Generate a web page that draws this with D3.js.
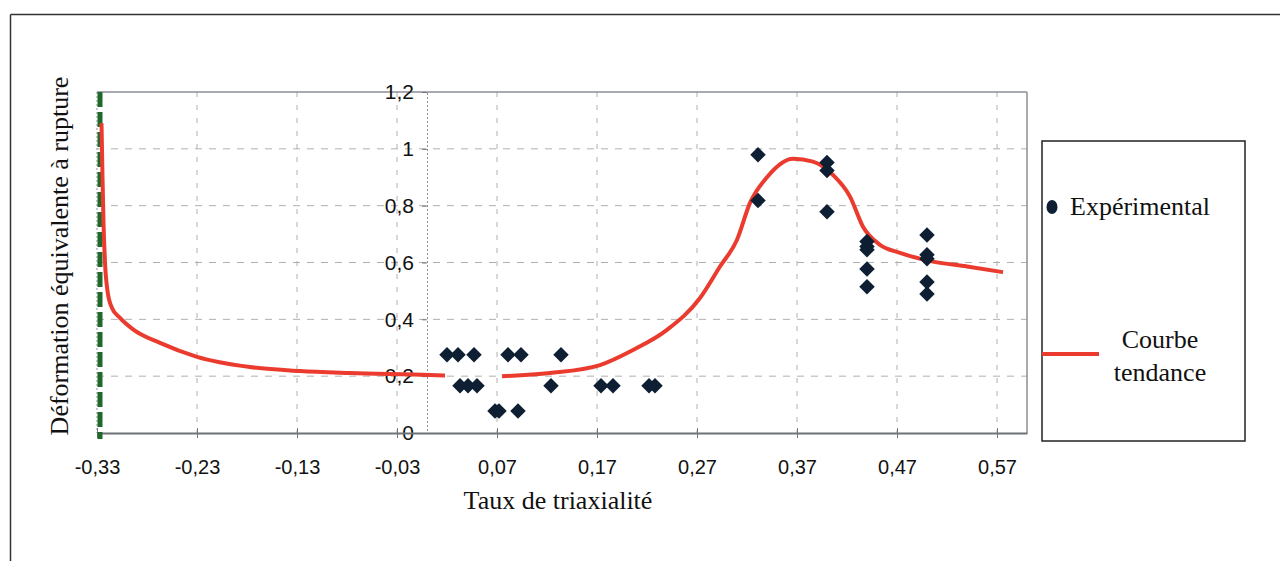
<!DOCTYPE html>
<html>
<head>
<meta charset="utf-8">
<script src="https://cdn.jsdelivr.net/npm/d3@7"></script>
<style>
  html, body { margin: 0; padding: 0; background: #fff; }
  svg { display: block; }
</style>
</head>
<body>
<svg id="chart" width="1284" height="561"></svg>
<script>
// ---------- data ----------
const xTicks = [-0.33, -0.23, -0.13, -0.03, 0.07, 0.17, 0.27, 0.37, 0.47, 0.57];
const yTicks = [0, 0.2, 0.4, 0.6, 0.8, 1, 1.2];

const expX = [0.020, 0.031, 0.047, 0.081, 0.094, 0.134,
              0.033, 0.041, 0.050, 0.124, 0.174, 0.186, 0.222, 0.228,
              0.068, 0.072, 0.091,
              0.331, 0.331, 0.400, 0.400, 0.400,
              0.440, 0.440, 0.440, 0.440, 0.440,
              0.500, 0.500, 0.500, 0.500, 0.500];
const expY = [0.275, 0.275, 0.275, 0.275, 0.275, 0.275,
              0.166, 0.166, 0.166, 0.166, 0.166, 0.166, 0.166, 0.166,
              0.077, 0.077, 0.077,
              0.979, 0.818, 0.952, 0.924, 0.779,
              0.674, 0.656, 0.645, 0.577, 0.515,
              0.697, 0.627, 0.613, 0.531, 0.489];

const trendLeftX = [-0.3255, -0.3245, -0.3235, -0.3220, -0.3195, -0.3150, -0.3070, -0.2940, -0.2670, -0.2300, -0.1770, -0.1270, -0.0770, 0.0030, 0.0180];
const trendLeftY = [1.09, 0.90, 0.74, 0.60, 0.50, 0.44, 0.405, 0.365, 0.317, 0.268, 0.232, 0.218, 0.211, 0.204, 0.202];

const trendRightX = [0.075, 0.123, 0.173, 0.206, 0.240, 0.273, 0.293, 0.310, 0.323, 0.340, 0.366, 0.386, 0.406, 0.423, 0.436, 0.453, 0.473, 0.506, 0.540, 0.576];
const trendRightY = [0.200, 0.211, 0.239, 0.292, 0.363, 0.475, 0.586, 0.680, 0.810, 0.900, 0.965, 0.955, 0.908, 0.832, 0.726, 0.662, 0.634, 0.603, 0.586, 0.566];

const legendLabels = ["Expérimental", "Courbe", "tendance"];
const xTitle = "Taux de triaxialité";
const yTitle = "Déformation équivalente  à rupture";

// ---------- layout ----------
const svg = d3.select("#chart");
const plot = { left: 97, right: 1027, top: 92, bottom: 433 };
const x = d3.scaleLinear().domain([-0.33, 0.60]).range([plot.left, plot.right]);
const y = d3.scaleLinear().domain([0, 1.2]).range([plot.bottom, plot.top]);

const fmtX = v => v.toFixed(2).replace(".", ",");
const fmtY = v => String(+v.toFixed(1)).replace(".", ",");
const serif = "Liberation Serif, Times New Roman, serif";
const sans = "Liberation Sans, Arial, sans-serif";

// outer frame (top + left visible)
svg.append("line").attr("x1", 10.5).attr("x2", 1280).attr("y1", 14.5).attr("y2", 14.5)
  .attr("stroke", "#333").attr("stroke-width", 1.5);
svg.append("line").attr("x1", 10.5).attr("x2", 10.5).attr("y1", 14.5).attr("y2", 561)
  .attr("stroke", "#333").attr("stroke-width", 1.5);

// grid lines
const g = svg.append("g");
g.selectAll(".vgrid").data(xTicks.filter(d => d > -0.33)).join("line")
  .attr("x1", d => x(d)).attr("x2", d => x(d))
  .attr("y1", plot.top).attr("y2", plot.bottom)
  .attr("stroke", "#b0b0b0").attr("stroke-width", 1).attr("stroke-dasharray", "5,8");
g.selectAll(".hgrid").data(yTicks.filter(d => d > 0 && d < 1.2)).join("line")
  .attr("x1", plot.left).attr("x2", plot.right)
  .attr("y1", d => y(d)).attr("y2", d => y(d))
  .attr("stroke", "#b0b0b0").attr("stroke-width", 1).attr("stroke-dasharray", "7,7");

// plot border
g.append("line").attr("x1", plot.left).attr("x2", plot.right).attr("y1", plot.top).attr("y2", plot.top)
  .attr("stroke", "#8a8f94").attr("stroke-width", 1.5);
g.append("line").attr("x1", plot.right).attr("x2", plot.right).attr("y1", plot.top).attr("y2", plot.bottom)
  .attr("stroke", "#8a8f94").attr("stroke-width", 1.5);
g.append("line").attr("x1", plot.left).attr("x2", plot.left).attr("y1", plot.top).attr("y2", plot.bottom)
  .attr("stroke", "#8a8f94").attr("stroke-width", 1).attr("stroke-dasharray", "2,2");

// y axis at x = 0
const yAxis = d3.axisLeft(y).tickValues(yTicks).tickFormat(fmtY).tickSize(5).tickPadding(8);
const ya = svg.append("g").attr("transform", `translate(${x(0)},0)`).call(yAxis);
ya.select(".domain").attr("stroke", "#8a8f94").attr("stroke-width", 1).attr("stroke-dasharray", "2,2");
ya.selectAll(".tick line").attr("stroke", "#777");
ya.selectAll("text").attr("font-family", sans).attr("font-size", 21).attr("fill", "#111");

// x axis at y = 0
const xAxis = d3.axisBottom(x).tickValues(xTicks).tickFormat(fmtX).tickSizeInner(5).tickSizeOuter(0).tickPadding(22);
const xa = svg.append("g").attr("transform", `translate(0,${y(0)})`).call(xAxis);
xa.select(".domain").attr("stroke", "#6d7378").attr("stroke-width", 2);
xa.selectAll(".tick line").attr("stroke", "#777").attr("y1", -5);
xa.selectAll("text").attr("font-family", sans).attr("font-size", 20).attr("fill", "#111");

// green dashed line at x = -0.33
svg.append("line")
  .attr("x1", x(-0.33) + 3).attr("x2", x(-0.33) + 3)
  .attr("y1", plot.top).attr("y2", plot.bottom + 6)
  .attr("stroke", "#1f6a2a").attr("stroke-width", 5).attr("stroke-dasharray", "15,5");

// trend curves
const line = d3.line().x(d => x(d[0])).y(d => y(d[1])).curve(d3.curveMonotoneX);
const leftPts = trendLeftX.map((v, i) => [v, trendLeftY[i]]);
const rightPts = trendRightX.map((v, i) => [v, trendRightY[i]]);
[leftPts, rightPts].forEach(pts => {
  svg.append("path").attr("d", line(pts)).attr("fill", "none")
    .attr("stroke", "#ea3b2e").attr("stroke-width", 4).attr("stroke-linejoin", "round");
});

// experimental diamonds
const diamond = d3.symbol().type(d3.symbolSquare).size(120);
svg.selectAll(".pt").data(expX.map((v, i) => [v, expY[i]])).join("path")
  .attr("d", diamond)
  .attr("transform", d => `translate(${x(d[0])},${y(d[1])}) rotate(45)`)
  .attr("fill", "#0e1f33");

// axis titles
svg.append("text").attr("x", 558).attr("y", 509).attr("text-anchor", "middle")
  .attr("font-family", serif).attr("font-size", 26).attr("fill", "#111").text(xTitle);
svg.append("text").attr("transform", "translate(68,256) rotate(-90)").attr("text-anchor", "middle")
  .attr("font-family", serif).attr("font-size", 26).attr("fill", "#111").text(yTitle);

// legend
const lg = svg.append("g");
lg.append("rect").attr("x", 1042).attr("y", 141).attr("width", 203).attr("height", 300)
  .attr("fill", "#fff").attr("stroke", "#222").attr("stroke-width", 1.5);
lg.append("ellipse").attr("cx", 1052).attr("cy", 207).attr("rx", 5.5).attr("ry", 7).attr("fill", "#0e1f33");
lg.append("text").attr("x", 1070).attr("y", 215)
  .attr("font-family", serif).attr("font-size", 26).attr("fill", "#111").text(legendLabels[0]);
lg.append("line").attr("x1", 1042).attr("x2", 1099).attr("y1", 354).attr("y2", 354)
  .attr("stroke", "#ea3b2e").attr("stroke-width", 4);
lg.append("text").attr("x", 1160).attr("y", 348).attr("text-anchor", "middle")
  .attr("font-family", serif).attr("font-size", 26).attr("fill", "#111").text(legendLabels[1]);
lg.append("text").attr("x", 1160).attr("y", 381).attr("text-anchor", "middle")
  .attr("font-family", serif).attr("font-size", 26).attr("fill", "#111").text(legendLabels[2]);
</script>
</body>
</html>
